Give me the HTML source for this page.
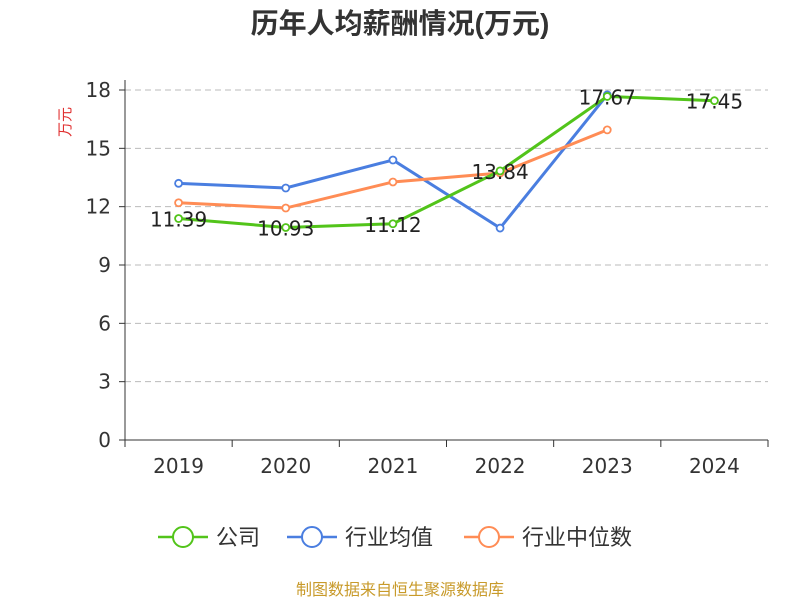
<!DOCTYPE html>
<html><head><meta charset="utf-8"><style>
body{margin:0;background:#fff;}
svg{display:block;font-family:"Liberation Sans","Noto Sans CJK SC",sans-serif;}
.num{font-family:"DejaVu Sans","Liberation Sans",sans-serif;}
</style></head><body>
<svg id="chart" width="800" height="600"></svg>
<script>
const categories=["2019","2020","2021","2022","2023","2024"];
const companyValues=[11.39,10.93,11.12,13.84,17.67,17.45];
const industryAvg=[13.2,12.96,14.4,10.9,17.75,null];
const industryMedian=[12.2,11.93,13.27,13.73,15.95,null];
const yTicks=[0,3,6,9,12,15,18];
const companyLabels=["11.39","10.93","11.12","13.84","17.67","17.45"];

const NS="http://www.w3.org/2000/svg";
const svg=document.getElementById('chart');
function mk(tag,attrs,parent){const e=document.createElementNS(NS,tag);for(const k in attrs)e.setAttribute(k,attrs[k]);(parent||svg).appendChild(e);return e;}
const x0=125,x1=768,yBase=440,yTop=90,yMax=18;
const band=(x1-x0)/categories.length;
const xS=i=>x0+band*(i+0.5);
const yS=v=>yBase-(v/yMax)*(yBase-yTop);

let t=mk('text',{x:400,y:33,'text-anchor':'middle','font-size':28,'font-weight':'bold',fill:'#333'});


t.textContent='历年人均薪酬情况(万元)';

t=mk('text',{x:70,y:122,'text-anchor':'middle','font-size':15,fill:'#e03030',transform:'rotate(-90 70 122)'});


t.textContent='万元';

yTicks.forEach(v=>{
  const y=yS(v);
  if(v>0){const g=mk('line',{x1:x0,x2:x1,y1:y,y2:y,stroke:'#bbb','stroke-dasharray':'6,4'});
  
  }
  mk('line',{x1:x0-6,x2:x0,y1:y,y2:y,stroke:'#333'});
  const l=mk('text',{x:x0-14,y:y+7,'text-anchor':'end','font-size':20,fill:'#333',class:'num'});
  
  
  l.textContent=v;
});
mk('line',{x1:x0,x2:x0,y1:yTop-10,y2:yBase,stroke:'#333'});
mk('line',{x1:x0,x2:x1,y1:yBase,y2:yBase,stroke:'#333'});
for(let i=0;i<=categories.length;i++){mk('line',{x1:x0+band*i,x2:x0+band*i,y1:yBase,y2:yBase+7,stroke:'#333'});}
categories.forEach((c,i)=>{
  const l=mk('text',{x:xS(i),y:473,'text-anchor':'middle','font-size':20,fill:'#333',class:'num'});
  
  
  l.textContent=c;
});

function series(vals,color,name){
  const pts=vals.map((v,i)=>v==null?null:[xS(i),yS(v)]).filter(p=>p);
  const p=mk('polyline',{points:pts.map(q=>q.join(',')).join(' '),fill:'none',stroke:color,'stroke-width':3});
  
  
  pts.forEach(q=>{const c=mk('circle',{cx:q[0],cy:q[1],r:3.5,fill:'#fff',stroke:color,'stroke-width':1.8});
    
    });
}
series(industryAvg,'#4a7ee0','industry-avg');
series(industryMedian,'#ff8c55','industry-median');
series(companyValues,'#52c41a','company');
companyValues.forEach((v,i)=>{
  const l=mk('text',{x:xS(i),y:yS(v)+8,'text-anchor':'middle','font-size':20,fill:'#222',class:'num'});
  
  
  l.textContent=companyLabels[i];
});

const legend=[["公司","#52c41a",158],["行业均值","#4a7ee0",287],["行业中位数","#ff8c55",464]];
legend.forEach(([n,c,x])=>{
  const g=mk('g',{});
  
  
  mk('line',{x1:x,x2:x+50,y1:537,y2:537,stroke:c,'stroke-width':2.5},g);
  mk('circle',{cx:x+25,cy:537,r:10,fill:'#fff',stroke:c,'stroke-width':2},g);
  const l=mk('text',{x:x+58,y:545,'font-size':22,fill:'#333'},g);
  l.textContent=n;
});
t=mk('text',{x:400,y:595,'text-anchor':'middle','font-size':16,fill:'#c89a2a'});


t.textContent='制图数据来自恒生聚源数据库';
</script>
</body></html>
